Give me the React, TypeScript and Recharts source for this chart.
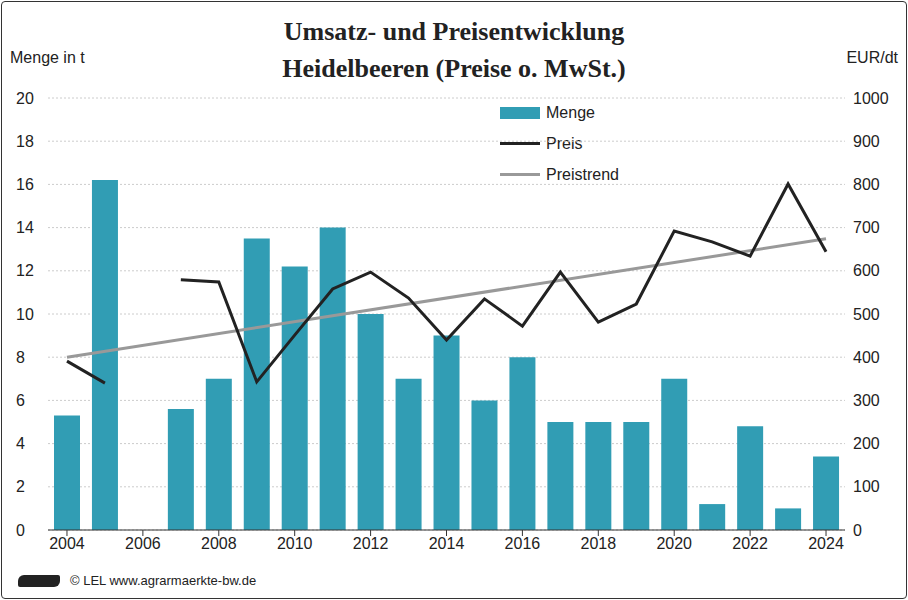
import React from "react";
import { ComposedChart, Bar, Line, XAxis, YAxis, CartesianGrid } from "recharts";

const years = ["2004","2005","2006","2007","2008","2009","2010","2011","2012","2013","2014","2015","2016","2017","2018","2019","2020","2021","2022","2023","2024"];
const menge = [5.3,16.2,null,5.6,7,13.5,12.2,14,10,7,9,6,8,5,5,5,7,1.2,4.8,1,3.4];
const preis = [391,340,null,579,574,343,451,558,597,537,440,535,472,597,481,523,692,667,634,801,644];
const trend = [400,null,null,null,null,null,null,null,null,null,null,null,null,null,null,null,null,null,null,null,674];
const leftTicks = [0,2,4,6,8,10,12,14,16,18,20];
const rightTicks = [0,100,200,300,400,500,600,700,800,900,1000];
const xTicks = ["2004","2006","2008","2010","2012","2014","2016","2018","2020","2022","2024"];

const data = years.map((y, i) => ({ year: y, menge: menge[i], preis: preis[i], trend: trend[i] }));
const font = "'Liberation Sans', Arial, sans-serif";
const tick = { fill: "#222", fontSize: 16, fontFamily: font };

export default function App() {
  return (
    <div style={{ position: "absolute", left: 0, top: 0, width: 908, height: 600, background: "#fff", fontFamily: font }}>
      <div style={{ position: "absolute", left: 1, top: 1, width: 904, height: 596, border: "1px solid #333", borderRadius: 4 }} />
      <div style={{ position: "absolute", left: 0, top: 13, width: 908, textAlign: "center", fontFamily: "'Liberation Serif', serif", fontWeight: "bold", fontSize: 26, lineHeight: "37px", color: "#222" }}>
        Umsatz- und Preisentwicklung<br />Heidelbeeren (Preise o. MwSt.)
      </div>
      <div style={{ position: "absolute", left: 10, top: 49, fontSize: 16, color: "#222" }}>Menge in t</div>
      <div style={{ position: "absolute", right: 10, top: 49, fontSize: 16, color: "#222" }}>EUR/dt</div>
      <div style={{ position: "absolute", left: 500, top: 97, fontSize: 16, color: "#222", lineHeight: "31px" }}>
        <div style={{ display: "flex", alignItems: "center" }}><span style={{ width: 40, height: 12, background: "#319db4", marginRight: 6 }} />Menge</div>
        <div style={{ display: "flex", alignItems: "center" }}><span style={{ width: 40, height: 3, background: "#222", marginRight: 6 }} />Preis</div>
        <div style={{ display: "flex", alignItems: "center" }}><span style={{ width: 40, height: 3, background: "#999", marginRight: 6 }} />Preistrend</div>
      </div>
      <div style={{ position: "absolute", left: 70, top: 573, fontSize: 13, color: "#222" }}>© LEL www.agrarmaerkte-bw.de</div>
      <div style={{ position: "absolute", left: 18, top: 575, width: 42, height: 12, background: "#222", borderRadius: "6px 2px 6px 2px" }} />
      <ComposedChart width={908} height={600} data={data} margin={{ top: 98, right: 0, left: 0, bottom: 40 }}>
        <CartesianGrid yAxisId="l" vertical={false} stroke="#ccc" strokeDasharray="2 2" />
        <XAxis dataKey="year" ticks={xTicks} interval={0} tick={tick} stroke="#333" tickLine={{ stroke: "#333" }} height={30} />
        <YAxis yAxisId="l" domain={[0, 20]} ticks={leftTicks} width={48} axisLine={false} tickLine={false} tick={{ ...tick, textAnchor: "start", dx: -24 }} />
        <YAxis yAxisId="r" orientation="right" domain={[0, 1000]} ticks={rightTicks} width={63} axisLine={false} tickLine={false} tick={tick} />
        <Bar yAxisId="l" dataKey="menge" fill="#319db4" barSize={26} isAnimationActive={false} />
        <Line yAxisId="r" dataKey="trend" stroke="#999" strokeWidth={3} dot={false} connectNulls isAnimationActive={false} />
        <Line yAxisId="r" dataKey="preis" stroke="#222" strokeWidth={3} dot={false} isAnimationActive={false} />
      </ComposedChart>
    </div>
  );
}
